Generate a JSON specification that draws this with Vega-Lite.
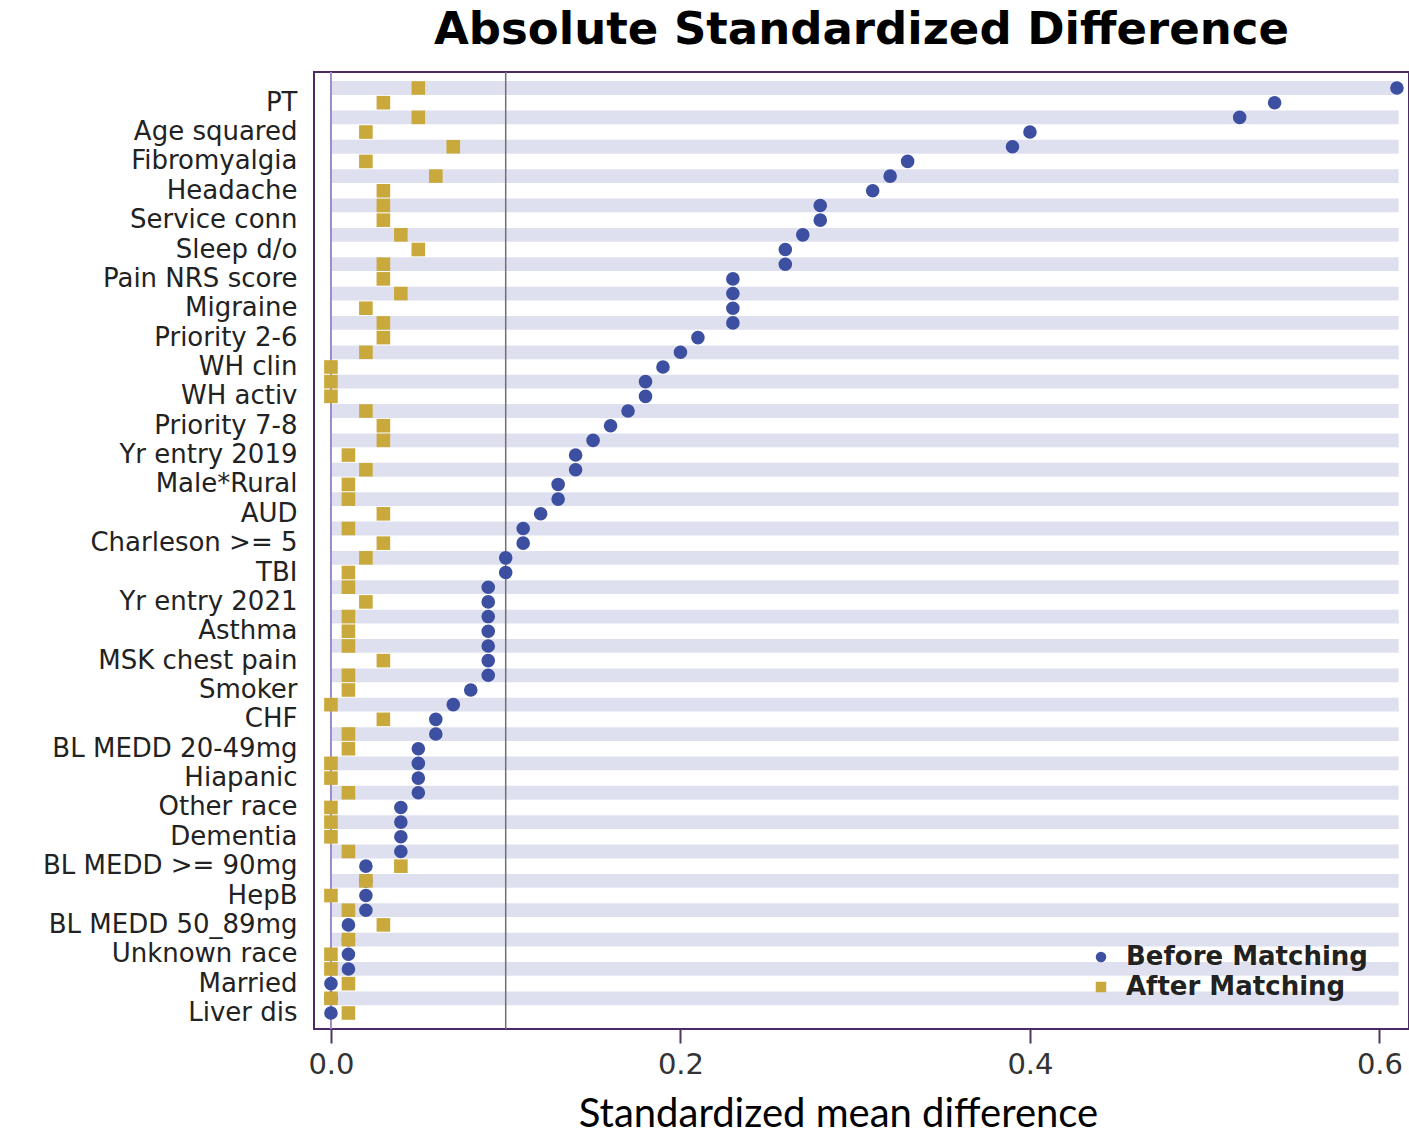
{
  "$schema": "https://vega.github.io/schema/vega-lite/v6.json",
  "autosize": "none",
  "width": 1095,
  "height": 957,
  "padding": {"left": 314, "top": 72, "right": 0, "bottom": 106},
  "background": "white",
  "title": {
    "text": "Absolute Standardized Difference",
    "font": "DejaVu Sans",
    "fontWeight": "bold",
    "fontSize": 45,
    "color": "#000000",
    "anchor": "middle",
    "frame": "group",
    "baseline": "alphabetic",
    "offset": -18
  },
  "config": {
    "view": {"stroke": "#4b2a66", "strokeWidth": 2, "fill": "white"}
  },
  "data": {
    "values": [
      {"variable": "unlabeled 1", "before": 0.61, "after": 0.05},
      {"variable": "PT", "before": 0.54, "after": 0.03},
      {"variable": "unlabeled 3", "before": 0.52, "after": 0.05},
      {"variable": "Age squared", "before": 0.40, "after": 0.02},
      {"variable": "unlabeled 5", "before": 0.39, "after": 0.07},
      {"variable": "Fibromyalgia", "before": 0.33, "after": 0.02},
      {"variable": "unlabeled 7", "before": 0.32, "after": 0.06},
      {"variable": "Headache", "before": 0.31, "after": 0.03},
      {"variable": "unlabeled 9", "before": 0.28, "after": 0.03},
      {"variable": "Service conn", "before": 0.28, "after": 0.03},
      {"variable": "unlabeled 11", "before": 0.27, "after": 0.04},
      {"variable": "Sleep d/o", "before": 0.26, "after": 0.05},
      {"variable": "unlabeled 13", "before": 0.26, "after": 0.03},
      {"variable": "Pain NRS score", "before": 0.23, "after": 0.03},
      {"variable": "unlabeled 15", "before": 0.23, "after": 0.04},
      {"variable": "Migraine", "before": 0.23, "after": 0.02},
      {"variable": "unlabeled 17", "before": 0.23, "after": 0.03},
      {"variable": "Priority 2-6", "before": 0.21, "after": 0.03},
      {"variable": "unlabeled 19", "before": 0.20, "after": 0.02},
      {"variable": "WH clin", "before": 0.19, "after": 0.0},
      {"variable": "unlabeled 21", "before": 0.18, "after": 0.0},
      {"variable": "WH activ", "before": 0.18, "after": 0.0},
      {"variable": "unlabeled 23", "before": 0.17, "after": 0.02},
      {"variable": "Priority 7-8", "before": 0.16, "after": 0.03},
      {"variable": "unlabeled 25", "before": 0.15, "after": 0.03},
      {"variable": "Yr entry 2019", "before": 0.14, "after": 0.01},
      {"variable": "unlabeled 27", "before": 0.14, "after": 0.02},
      {"variable": "Male*Rural", "before": 0.13, "after": 0.01},
      {"variable": "unlabeled 29", "before": 0.13, "after": 0.01},
      {"variable": "AUD", "before": 0.12, "after": 0.03},
      {"variable": "unlabeled 31", "before": 0.11, "after": 0.01},
      {"variable": "Charleson >= 5", "before": 0.11, "after": 0.03},
      {"variable": "unlabeled 33", "before": 0.10, "after": 0.02},
      {"variable": "TBI", "before": 0.10, "after": 0.01},
      {"variable": "unlabeled 35", "before": 0.09, "after": 0.01},
      {"variable": "Yr entry 2021", "before": 0.09, "after": 0.02},
      {"variable": "unlabeled 37", "before": 0.09, "after": 0.01},
      {"variable": "Asthma", "before": 0.09, "after": 0.01},
      {"variable": "unlabeled 39", "before": 0.09, "after": 0.01},
      {"variable": "MSK chest pain", "before": 0.09, "after": 0.03},
      {"variable": "unlabeled 41", "before": 0.09, "after": 0.01},
      {"variable": "Smoker", "before": 0.08, "after": 0.01},
      {"variable": "unlabeled 43", "before": 0.07, "after": 0.0},
      {"variable": "CHF", "before": 0.06, "after": 0.03},
      {"variable": "unlabeled 45", "before": 0.06, "after": 0.01},
      {"variable": "BL MEDD 20-49mg", "before": 0.05, "after": 0.01},
      {"variable": "unlabeled 47", "before": 0.05, "after": 0.0},
      {"variable": "Hiapanic", "before": 0.05, "after": 0.0},
      {"variable": "unlabeled 49", "before": 0.05, "after": 0.01},
      {"variable": "Other race", "before": 0.04, "after": 0.0},
      {"variable": "unlabeled 51", "before": 0.04, "after": 0.0},
      {"variable": "Dementia", "before": 0.04, "after": 0.0},
      {"variable": "unlabeled 53", "before": 0.04, "after": 0.01},
      {"variable": "BL MEDD >= 90mg", "before": 0.02, "after": 0.04},
      {"variable": "unlabeled 55", "before": 0.02, "after": 0.02},
      {"variable": "HepB", "before": 0.02, "after": 0.0},
      {"variable": "unlabeled 57", "before": 0.02, "after": 0.01},
      {"variable": "BL MEDD 50_89mg", "before": 0.01, "after": 0.03},
      {"variable": "unlabeled 59", "before": 0.01, "after": 0.01},
      {"variable": "Unknown race", "before": 0.01, "after": 0.0},
      {"variable": "unlabeled 61", "before": 0.01, "after": 0.0},
      {"variable": "Married", "before": 0.0, "after": 0.01},
      {"variable": "unlabeled 63", "before": 0.0, "after": 0.0},
      {"variable": "Liver dis", "before": 0.0, "after": 0.01}
    ]
  },
  "layer": [
    {
      "mark": {"type": "rect"},
      "encoding": {
        "y": {
          "field": "variable",
          "type": "nominal",
          "sort": null,
          "scale": {"paddingInner": 0.06, "paddingOuter": 0.62},
          "axis": {
            "title": null,
            "labelFont": "DejaVu Sans",
            "labelFontSize": 26,
            "labelColor": "#222222",
            "labelPadding": 17,
            "ticks": false,
            "tickSize": 0,
            "domain": false,
            "grid": false,
            "labelOverlap": false,
            "labelLimit": 400,
            "labelExpr": "indexof(datum.label, 'unlabeled') === 0 ? '' : datum.label"
          }
        },
        "x": {"datum": 0, "type": "quantitative"},
        "x2": {"datum": 0.611},
        "fill": {
          "condition": {"test": "indexof(datum.variable, 'unlabeled') === 0", "value": "#dfe0ef"},
          "value": "transparent"
        }
      }
    },
    {
      "data": {"values": [{}]},
      "mark": {"type": "rule", "color": "#9b8cc6", "strokeWidth": 2},
      "encoding": {"x": {"datum": 0, "type": "quantitative"}}
    },
    {
      "data": {"values": [{}]},
      "mark": {"type": "rule", "color": "#707070", "strokeWidth": 1.5},
      "encoding": {"x": {"datum": 0.1, "type": "quantitative"}}
    },
    {
      "transform": [{"fold": ["before", "after"], "as": ["stage", "smd"]}],
      "mark": {"type": "point", "filled": true, "opacity": 1, "size": 185, "strokeWidth": 0},
      "encoding": {
        "y": {
          "field": "variable",
          "type": "nominal",
          "sort": null,
          "axis": {
            "title": null,
            "labelFont": "DejaVu Sans",
            "labelFontSize": 26,
            "labelColor": "#222222",
            "labelPadding": 17,
            "ticks": false,
            "tickSize": 0,
            "domain": false,
            "grid": false,
            "labelOverlap": false,
            "labelLimit": 400,
            "labelExpr": "indexof(datum.label, 'unlabeled') === 0 ? '' : datum.label"
          }
        },
        "x": {
          "field": "smd",
          "type": "quantitative",
          "scale": {"domain": [-0.0097, 0.6169], "nice": false, "zero": false},
          "axis": {
            "values": [0, 0.2, 0.4, 0.6],
            "format": ".1f",
            "labelFont": "DejaVu Sans",
            "labelFontSize": 29,
            "labelColor": "#333333",
            "labelPadding": 7,
            "labelFlush": false,
            "tickSize": 14,
            "tickWidth": 2,
            "tickColor": "#4b3a5c",
            "domain": false,
            "grid": false,
            "title": "Standardized mean difference",
            "titleFont": "Lato",
            "titleFontSize": 40,
            "titleFontWeight": "normal",
            "titleColor": "#000000",
            "titleX": 524,
            "titleY": 97,
            "titleAlign": "center",
            "titleBaseline": "alphabetic"
          }
        },
        "color": {
          "field": "stage",
          "type": "nominal",
          "scale": {"domain": ["before", "after"], "range": ["#3d4fa0", "#c9a93b"]},
          "legend": {
            "orient": "none",
            "legendX": 774,
            "legendY": 872,
            "title": null,
            "labelFont": "DejaVu Sans",
            "labelFontWeight": "bold",
            "labelFontSize": 26,
            "labelColor": "#222222",
            "labelOffset": 12,
            "labelLimit": 400,
            "rowPadding": 4,
            "symbolSize": 110,
            "symbolStrokeWidth": 0,
            "labelExpr": "datum.value === 'before' ? 'Before Matching' : 'After Matching'"
          }
        },
        "shape": {
          "field": "stage",
          "type": "nominal",
          "scale": {"domain": ["before", "after"], "range": ["circle", "square"]},
          "legend": {
            "orient": "none",
            "legendX": 774,
            "legendY": 872,
            "title": null,
            "labelFont": "DejaVu Sans",
            "labelFontWeight": "bold",
            "labelFontSize": 26,
            "labelColor": "#222222",
            "labelOffset": 12,
            "labelLimit": 400,
            "rowPadding": 4,
            "symbolSize": 110,
            "symbolStrokeWidth": 0,
            "labelExpr": "datum.value === 'before' ? 'Before Matching' : 'After Matching'"
          }
        }
      }
    }
  ]
}
